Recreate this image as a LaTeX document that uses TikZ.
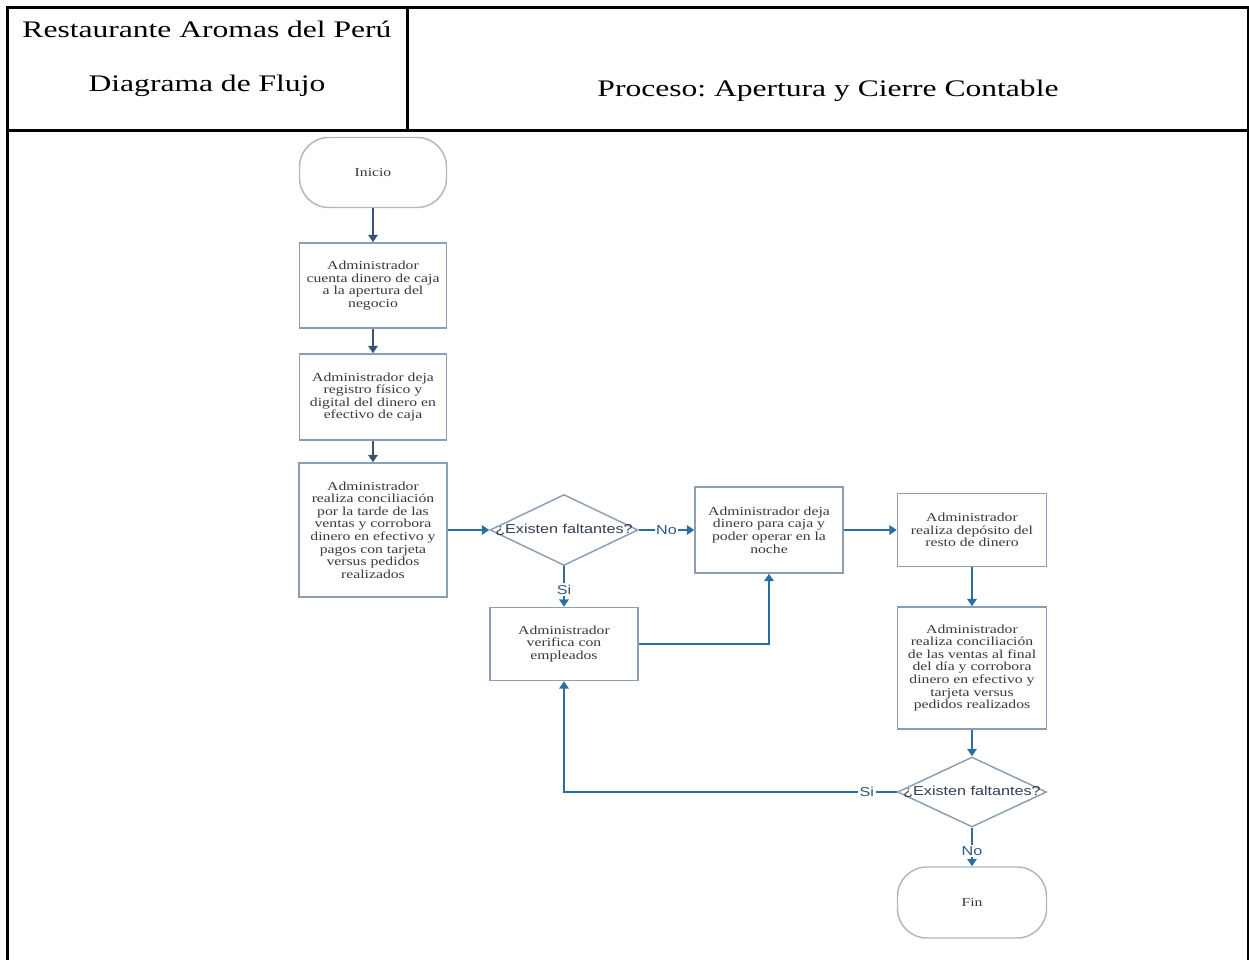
\documentclass[tikz,border=0pt]{standalone}
\usepackage{fontspec}
\setmainfont{Liberation Serif}
\newfontfamily\hdrfont[FakeStretch=1.33]{Liberation Serif}
\newfontfamily\boxfont[FakeStretch=1.28]{Liberation Serif}
\newfontfamily\lblfont[FakeStretch=1.25]{Liberation Sans}
\usetikzlibrary{arrows.meta,shapes.geometric}
\frenchspacing
\definecolor{boxline}{RGB}{140,158,182}
\definecolor{termline}{RGB}{172,184,200}
\definecolor{boxtext}{RGB}{62,55,66}
\definecolor{flowdark}{RGB}{58,84,110}
\definecolor{flowblue}{RGB}{42,110,163}
\definecolor{decitext}{RGB}{50,62,82}
\definecolor{lbltext}{RGB}{45,88,130}
\tikzset{
  frame/.style={line width=2.25pt, black, line join=miter},
  hdr/.style={font=\hdrfont\fontsize{17.8}{20}\selectfont, inner sep=0, anchor=base},
  procbox/.style={draw=boxline, line width=1.1pt, fill=white, inner sep=0,
    align=center, text=boxtext, font=\boxfont\fontsize{9.2}{9.4}\selectfont},
  termbox/.style={procbox, draw=termline, rounded corners=22pt},
  decision/.style={diamond, draw=boxline, line width=1.1pt, fill=white, inner sep=0},
  decitxt/.style={inner sep=0, text=decitext, font=\lblfont\fontsize{9.7}{11}\selectfont},
  lbl/.style={fill=white, inner sep=1.2pt, text=lbltext, font=\lblfont\fontsize{9.7}{11}\selectfont},
  flow/.style={draw=flowblue, line width=1.5pt, -{Triangle[length=5.5pt,width=7pt]}},
  flowd/.style={flow, draw=flowdark},
}
\begin{document}
\begin{tikzpicture}[x=0.75pt, y=-0.75pt]
\useasboundingbox (0,0) rectangle (1249,960);

% header table and page frame
\draw[frame] (7,960) -- (7,7) -- (1248,7) -- (1248,960);
\draw[frame] (7,130) -- (1248,130);
\draw[frame] (407,7) -- (407,130);
\node[hdr] (hname) at (207,37.5) {Restaurante Aromas del Perú};
\node[hdr] (htype) at (207,91) {Diagrama de Flujo};
\node[hdr] (hproc) at (828,96) {Proceso: Apertura y Cierre Contable};

% flow nodes
\node[termbox, minimum width={147*0.75pt}, minimum height={70*0.75pt}] (inicio) at (373,172.5) {Inicio};
\node[procbox, minimum width={147*0.75pt}, minimum height={85*0.75pt}] (b1) at (373,285.5)
  {Administrador\\cuenta dinero de caja\\a la apertura del\\negocio};
\node[procbox, minimum width={147*0.75pt}, minimum height={86*0.75pt}] (b2) at (373,397)
  {Administrador deja\\registro físico y\\digital del dinero en\\efectivo de caja};
\node[procbox, minimum width={148*0.75pt}, minimum height={134*0.75pt}] (b3) at (373,530)
  {Administrador\\realiza conciliación\\por la tarde de las\\ventas y corrobora\\dinero en efectivo y\\pagos con tarjeta\\versus pedidos\\realizados};
\node[decision, minimum width={148*0.75pt}, minimum height={71*0.75pt}] (d1) at (564,530) {};
\node[decitxt] (d1t) at (d1) {¿Existen faltantes?};
\node[procbox, minimum width={148*0.75pt}, minimum height={86*0.75pt}] (b4) at (769,530)
  {Administrador deja\\dinero para caja y\\poder operar en la\\noche};
\node[procbox, minimum width={149*0.75pt}, minimum height={73*0.75pt}] (b5) at (972,530)
  {Administrador\\realiza depósito del\\resto de dinero};
\node[procbox, minimum width={148*0.75pt}, minimum height={73*0.75pt}] (b6) at (564,644)
  {Administrador\\verifica con\\empleados};
\node[procbox, minimum width={149*0.75pt}, minimum height={122*0.75pt}] (b7) at (972,668)
  {Administrador\\realiza conciliación\\de las ventas al final\\del día y corrobora\\dinero en efectivo y\\tarjeta versus\\pedidos realizados};
\node[decision, minimum width={149*0.75pt}, minimum height={70*0.75pt}] (d2) at (972,792) {};
\node[decitxt] (d2t) at (d2) {¿Existen faltantes?};
\node[termbox, minimum width={149*0.75pt}, minimum height={71*0.75pt}] (fin) at (972,902.5) {Fin};

% connectors
\draw[flowd] (inicio) -- (b1);
\draw[flowd] (b1) -- (b2);
\draw[flowd] (b2) -- (b3);
\draw[flow] (b3.east) -- (d1.west);
\draw[flow] (d1.east) -- node[lbl] {No} (b4.west);
\draw[flow] (d1.south) -- node[lbl, pos=0.58] {Si} (b6.north);
\draw[flow] (b6.east) -| (b4.south);
\draw[flow] (b4.east) -- (b5.west);
\draw[flow] (b5) -- (b7);
\draw[flow] (b7) -- (d2);
\draw[flow] (d2.south) -- node[lbl, pos=0.6] {No} (fin.north);
\draw[flow] (d2.west) -| node[lbl, pos=0.045] {Si} (b6.south);
\end{tikzpicture}
\end{document}
